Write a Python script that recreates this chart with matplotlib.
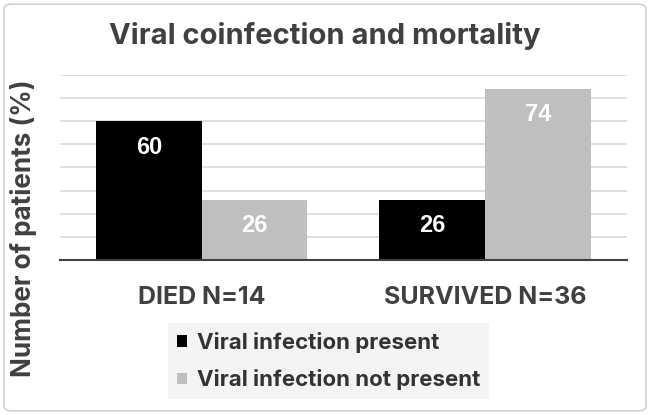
import matplotlib
matplotlib.use("Agg")
import matplotlib.pyplot as plt
from matplotlib.patches import FancyBboxPatch, Patch
import numpy as np

categories = ["DIED N=14", "SURVIVED N=36"]
series_names = ["Viral infection present", "Viral infection not present"]
present = [60, 26]
not_present = [26, 74]

colors = ["#000000", "#bfbfbf"]
text_color = "#404040"
font = ["Inter", "DejaVu Sans"]

fig = plt.figure(figsize=(6.5, 4.15), dpi=100)
fig.patch.set_facecolor("white")

# figure border
border = FancyBboxPatch((0.006, 0.01), 0.988, 0.98,
                        boxstyle="round,pad=0,rounding_size=0.012",
                        transform=fig.transFigure, facecolor="none",
                        edgecolor="#d0d0d0", linewidth=1.2)
fig.patches.append(border)

ax = fig.add_axes([0.0923, 0.3735, 0.8723, 0.4458])
x = np.arange(len(categories))
w = 0.373
b1 = ax.bar(x - w / 2, present, w, color=colors[0], label=series_names[0], zorder=3)
b2 = ax.bar(x + w / 2, not_present, w, color=colors[1], label=series_names[1], zorder=3)

for bars in (b1, b2):
    for rect in bars:
        h = rect.get_height()
        ax.annotate(f"{h:g}", (rect.get_x() + rect.get_width() / 2, h),
                    xytext=(0, -26), textcoords="offset pixels",
                    ha="center", va="center", color="white",
                    fontsize=17, fontweight="bold", family=["Liberation Sans", "DejaVu Sans"],
                    zorder=4)

ax.set_xlim(-0.5, 1.5)
ax.set_ylim(0, 80)
ax.set_yticks(np.arange(10, 81, 10))
ax.yaxis.grid(True, color="#d9d9d9", linewidth=1.2, zorder=0)
ax.tick_params(axis="y", length=0, labelleft=False)
ax.set_xticks(x)
ax.set_xticklabels(categories, fontsize=18, fontweight="bold", color=text_color, family=font)
ax.tick_params(axis="x", length=0, pad=19)
for s in ["top", "right", "left"]:
    ax.spines[s].set_visible(False)
ax.spines["bottom"].set_color("#404040")
ax.spines["bottom"].set_linewidth(1.5)
ax.spines["bottom"].set_zorder(5)

fig.text(0.5, 0.913, "Viral coinfection and mortality", ha="center", va="center",
         fontsize=21, fontweight="bold", color=text_color, family=font)
fig.text(0.036, 0.45, "Number of patients (%)", ha="center", va="center", rotation=90,
         fontsize=18.8, fontweight="bold", color=text_color, family=font)

handles = [Patch(facecolor=c, edgecolor="none") for c in colors]
leg = fig.legend(handles, series_names, loc="upper left",
                 bbox_to_anchor=(0.258, 0.222), borderaxespad=0,
                 frameon=True, fancybox=False,
                 facecolor="#f4f4f4", edgecolor="none", framealpha=1,
                 handlelength=0.45, handleheight=0.45, handletextpad=0.45,
                 labelspacing=0.75, borderpad=0.4,
                 prop={"family": font, "weight": "bold", "size": 16})
for t in leg.get_texts():
    t.set_color("#333333")

fig.savefig("out.png", dpi=100)
